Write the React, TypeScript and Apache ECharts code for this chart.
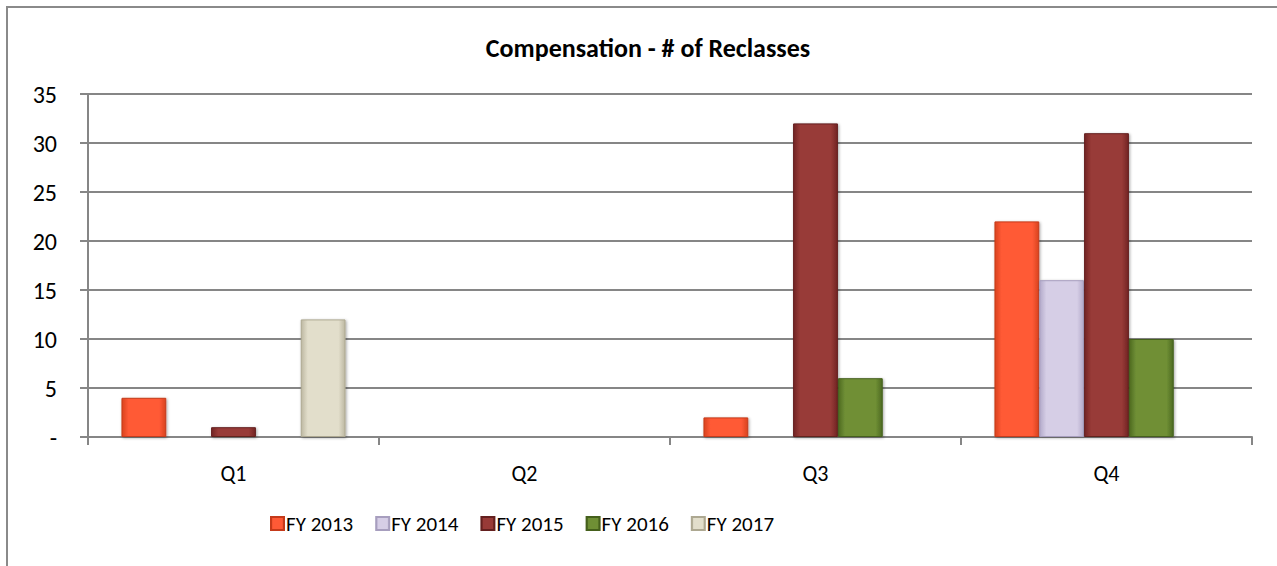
import React, { useEffect, useRef } from "react";
import * as echarts from "echarts";

const categories = ["Q1", "Q2", "Q3", "Q4"];
const seriesNames = ["FY 2013", "FY 2014", "FY 2015", "FY 2016", "FY 2017"];
const fy2013 = [4, 0, 2, 22];
const fy2014 = [0, 0, 0, 16];
const fy2015 = [1, 0, 32, 31];
const fy2016 = [0, 0, 6, 10];
const fy2017 = [12, 0, 0, 0];
const seriesValues = [fy2013, fy2014, fy2015, fy2016, fy2017];

const palette = [
  { mid: "#FF5A36", edge: "#D9431F", border: "#C53A1A" },
  { mid: "#D6CEE6", edge: "#B3AACA", border: "#A79EBE" },
  { mid: "#983A37", edge: "#722624", border: "#64201F" },
  { mid: "#6F8F35", edge: "#4E6A21", border: "#45601C" },
  { mid: "#E2DECB", edge: "#BDB8A2", border: "#ADA891" },
];

const FONT = "Carlito, Lato, 'Liberation Sans', sans-serif";

export default function App() {
  const ref = useRef<HTMLDivElement>(null);
  useEffect(() => {
    if (!ref.current) return;
    const chart = echarts.init(ref.current, null, { renderer: "svg" });
    const grad = (c: { mid: string; edge: string }) =>
      new echarts.graphic.LinearGradient(0, 0, 1, 0, [
        { offset: 0, color: c.edge },
        { offset: 0.15, color: c.mid },
        { offset: 0.85, color: c.mid },
        { offset: 1, color: c.edge },
      ]);
    chart.setOption({
      animation: false,
      backgroundColor: "#ffffff",
      title: {
        text: "Compensation - # of Reclasses",
        left: 643,
        textAlign: "center",
        top: 30,
        textStyle: { fontFamily: FONT, fontWeight: "bold", fontSize: 26, color: "#000" },
      },
      graphic: [
        {
          type: "rect",
          shape: { x: 7, y: 7, width: 1400, height: 700 },
          style: { fill: "none", stroke: "#8a8a8a", lineWidth: 2 },
          silent: true,
        },
      ],
      legend: {
        data: seriesNames,
        bottom: 27,
        left: 265,
        itemWidth: 13,
        itemHeight: 13,
        itemGap: 22,
        textStyle: { fontFamily: FONT, fontSize: 21, color: "#000", padding: [0, 0, 0, -3] },
        icon: "rect",
      },
      grid: { left: 88, right: 25, top: 94, bottom: 129, containLabel: false },
      xAxis: {
        type: "category",
        data: categories,
        axisLine: { lineStyle: { color: "#868686", width: 2 } },
        axisTick: { show: true, length: 8, interval: 0, lineStyle: { color: "#868686", width: 2 } },
        axisLabel: { fontFamily: FONT, fontSize: 22, color: "#000", margin: 25 },
      },
      yAxis: {
        type: "value",
        min: 0,
        max: 35,
        interval: 5,
        axisLine: { show: true, lineStyle: { color: "#868686", width: 2 } },
        axisTick: { show: true, length: 8, lineStyle: { color: "#868686", width: 2 } },
        splitLine: { lineStyle: { color: "#868686", width: 2 } },
        axisLabel: {
          fontFamily: FONT,
          fontSize: 24,
          color: "#000",
          margin: 31,
          formatter: (v: number) => (v === 0 ? "-" : String(v)),
        },
      },
      series: seriesNames.map((name, i) => ({
        name,
        type: "bar",
        data: seriesValues[i],
        barGap: "0%",
        barCategoryGap: "23%",
        itemStyle: {
          color: grad(palette[i]),
          borderColor: palette[i].border,
          borderWidth: 1,
          shadowBlur: 3,
          shadowColor: "rgba(0,0,0,0.35)",
          shadowOffsetX: 1,
          shadowOffsetY: 1,
        },
        emphasis: { disabled: true },
      })),
    });
    return () => chart.dispose();
  }, []);
  return (
    <div
      ref={ref}
      style={{ position: "fixed", left: 0, top: 0, width: 1277, height: 566 }}
    />
  );
}
